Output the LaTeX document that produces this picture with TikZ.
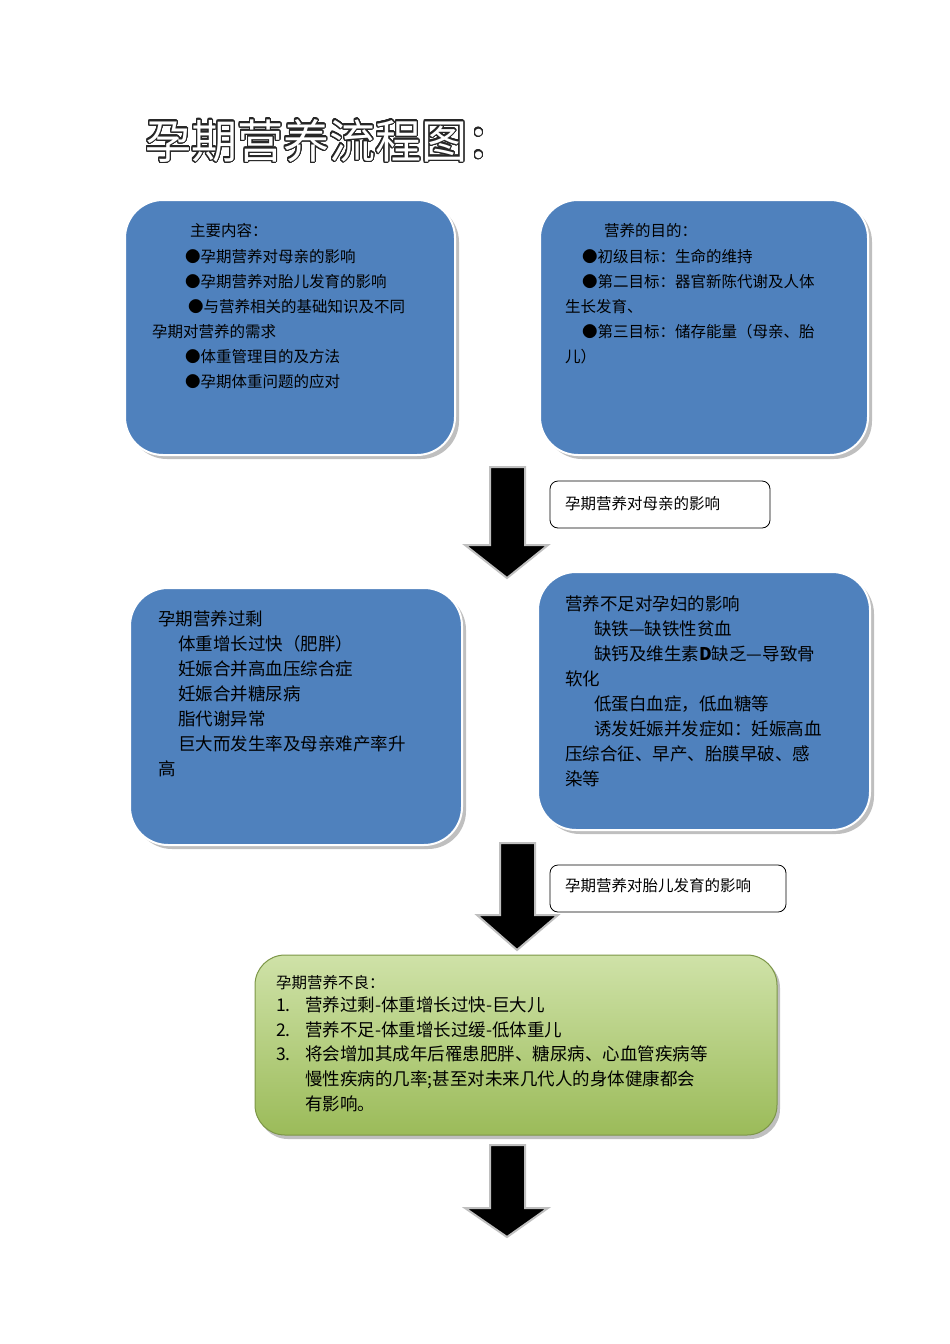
\documentclass[tikz,border=0pt]{standalone}
\usepackage{fontspec}
\setmainfont{Noto Sans CJK SC}
\usepackage[copies]{contour}
\contourlength{1.2pt}
\contournumber{32}
\definecolor{bluebox}{HTML}{4F81BD}
\definecolor{gtop}{HTML}{CFE2A8}
\definecolor{gbot}{HTML}{9BBB59}
\tikzset{
  bbox/.style={fill=bluebox, draw=white, line width=2pt, rounded corners=38pt},
  shad/.style={fill=black!25, rounded corners=38pt},
  lbl/.style={draw=black, fill=white, rounded corners=8pt, line width=0.8pt},
  t16/.style={anchor=base west, inner sep=0pt, font=\fontsize{15.5}{18}\selectfont},
  t18/.style={anchor=base west, inner sep=0pt, font=\fontsize{17.5}{20}\selectfont},
  darr/.style={fill=black, draw=black!25, line width=2pt, line join=miter}
}
\begin{document}
\begin{tikzpicture}[x=1pt,y=-1pt]
\useasboundingbox (0,0) rectangle (950,1344);
% title
\node[anchor=base west, inner sep=0pt, font=\fontsize{46}{50}\selectfont] (title) at (145,158) {\contour{black!85}{\textcolor{white}{孕期营养流程图：}}};
% boxes
\fill[shad] (129,204) rectangle (459,459);
\draw[bbox] (125,200) rectangle (455,455);
\coordinate (b1) at (290,328);
\fill[shad] (544,204) rectangle (872,459);
\draw[bbox] (540,200) rectangle (868,455);
\coordinate (b2) at (704,328);
\fill[shad] (134,592) rectangle (466,849);
\draw[bbox] (130,588) rectangle (462,845);
\fill[shad] (542,576) rectangle (874,834);
\draw[bbox] (538,572) rectangle (870,830);
% green
\fill[black!25, rounded corners=30pt] (258,958) rectangle (780,1139);
\shade[top color=gtop, bottom color=gbot, rounded corners=30pt, draw=gbot!80!black, line width=1pt] (255,955) rectangle (777,1135);
% arrows
\draw[darr] (490,467) -- (525,467) -- (525,545) -- (548,545) -- (507,578) -- (465,545) -- (490,545) -- cycle;
\draw[darr] (500,843) -- (535,843) -- (535,915) -- (558,915) -- (517,950) -- (477,915) -- (500,915) -- cycle;
\draw[darr] (490,1145) -- (525,1145) -- (525,1208) -- (548,1208) -- (507,1237) -- (465,1208) -- (490,1208) -- cycle;
% labels
\draw[lbl] (550,481) rectangle (770,528);
\node[t16] (l1) at (565,509) {孕期营养对母亲的影响};
\draw[lbl] (550,865) rectangle (786,912);
\node[t16] (l2) at (565,891) {孕期营养对胎儿发育的影响};
% box1 text
\node[t16] (a0) at (190,236) {主要内容：};
\node[t16] (a1) at (185,262) {●孕期营养对母亲的影响};
\node[t16] (a2) at (185,287) {●孕期营养对胎儿发育的影响};
\node[t16] (a3) at (188,312) {●与营养相关的基础知识及不同};
\node[t16] (a4) at (152,337) {孕期对营养的需求};
\node[t16] (a5) at (185,362) {●体重管理目的及方法};
\node[t16] (a6) at (185,387) {●孕期体重问题的应对};
% box2 text
\node[t16] (c0) at (604,236) {营养的目的：};
\node[t16] (c1) at (582,262) {●初级目标：生命的维持};
\node[t16] (c2) at (582,287) {●第二目标：器官新陈代谢及人体};
\node[t16] (c3) at (565,312) {生长发育、};
\node[t16] (c4) at (582,337) {●第三目标：储存能量（母亲、胎};
\node[t16] (c5) at (565,362) {儿）};
% box3 text
\node[t18] (d0) at (158,625) {孕期营养过剩};
\node[t18] (d1) at (178,650) {体重增长过快（肥胖）};
\node[t18] (d2) at (178,675) {妊娠合并高血压综合症};
\node[t18] (d3) at (178,700) {妊娠合并糖尿病};
\node[t18] (d4) at (178,725) {脂代谢异常};
\node[t18] (d5) at (178,750) {巨大而发生率及母亲难产率升};
\node[t18] (d6) at (158,775) {高};
% box4 text
\node[t18] (e0) at (565,610) {营养不足对孕妇的影响};
\node[t18] (e1) at (594,635) {缺铁---缺铁性贫血};
\node[t18] (e2) at (594,660) {缺钙及维生素\textbf{D}缺乏—导致骨};
\node[t18] (e3) at (565,685) {软化};
\node[t18] (e4) at (594,710) {低蛋白血症，低血糖等};
\node[t18] (e5) at (594,735) {诱发妊娠并发症如：妊娠高血};
\node[t18] (e6) at (565,760) {压综合征、早产、胎膜早破、感};
\node[t18] (e7) at (565,785) {染等};
% green text
\node[t16] (g0) at (276,988) {孕期营养不良：};
\node[t18] (g1n) at (276,1011) {1.};
\node[t18] (g1) at (305,1011) {营养过剩-体重增长过快-巨大儿};
\node[t18] (g2n) at (276,1036) {2.};
\node[t18] (g2) at (305,1036) {营养不足-体重增长过缓-低体重儿};
\node[t18] (g3n) at (276,1060) {3.};
\node[t18] (g3) at (305,1060) {将会增加其成年后罹患肥胖、糖尿病、心血管疾病等};
\node[t18] (g4) at (305,1085) {慢性疾病的几率;甚至对未来几代人的身体健康都会};
\node[t18] (g5) at (305,1110) {有影响。};
\end{tikzpicture}
\end{document}
